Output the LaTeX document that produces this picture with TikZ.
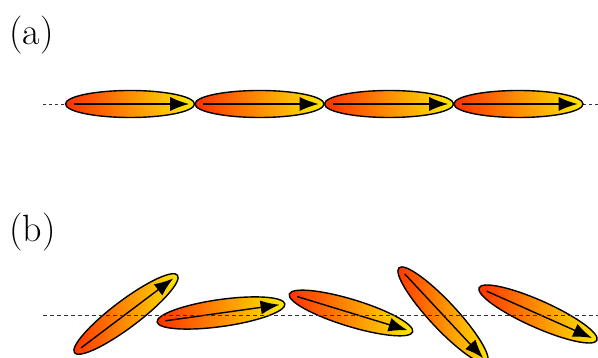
\documentclass[tikz,border=0pt]{standalone}
\usetikzlibrary{shapes.geometric,arrows.meta}
\definecolor{spinred}{RGB}{255,48,0}
\definecolor{spinyellow}{RGB}{255,236,0}
\begin{document}
\begin{tikzpicture}[x=1pt, y=1pt,
    spin/.style={ellipse, draw=black, line width=1.4pt, minimum width=129pt, minimum height=27pt, inner sep=0pt, left color=spinred, right color=spinyellow},
    spinarrow/.style={line width=1.4pt, -{Latex[length=19pt, width=14pt]}, shorten <=9pt, shorten >=6pt},
    axis/.style={line width=0.8pt, black!80, dash pattern=on 3pt off 3pt},
    tag/.style={anchor=base west, inner sep=0pt, font=\fontsize{38}{42}\selectfont}]
  \useasboundingbox (0,0) rectangle (598,358);
  \node[tag] (la) at (9,313) {(a)};
  \coordinate (aL) at (43,254);
  \coordinate (aR) at (598,254);
  \draw[axis] (aL) -- (aR);
  \node[spin] (a1) at (130,254) {};
  \node[spin] (a2) at (259.5,254) {};
  \node[spin] (a3) at (389,254) {};
  \node[spin] (a4) at (518.5,254) {};
  \draw[spinarrow] (a1.west) -- (a1.east);
  \draw[spinarrow] (a2.west) -- (a2.east);
  \draw[spinarrow] (a3.west) -- (a3.east);
  \draw[spinarrow] (a4.west) -- (a4.east);
  \node[tag] (lb) at (9,116) {(b)};
  \node[spin, rotate=37] (b1) at (126,44) {};
  \node[spin, rotate=8] (b2) at (221,45) {};
  \node[spin, rotate=-17] (b3) at (351,45) {};
  \node[spin, rotate=-47] (b4) at (443,43) {};
  \node[spin, rotate=-24] (b5) at (538,44) {};
  \draw[spinarrow] (b1.west) -- (b1.east);
  \draw[spinarrow] (b2.west) -- (b2.east);
  \draw[spinarrow] (b3.west) -- (b3.east);
  \draw[spinarrow] (b4.west) -- (b4.east);
  \draw[spinarrow] (b5.west) -- (b5.east);
  \coordinate (bL) at (43,43);
  \coordinate (bR) at (598,43);
  \draw[axis, dash pattern=on 4pt off 3pt] (bL) -- (bR);
\end{tikzpicture}
\end{document}
